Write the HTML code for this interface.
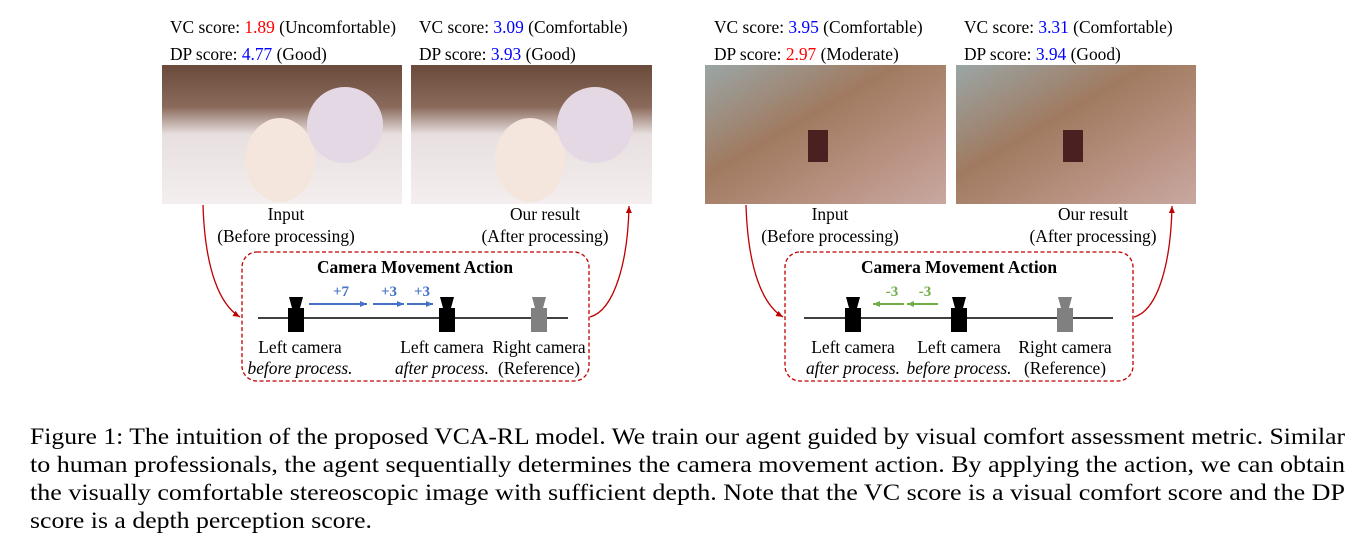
<!DOCTYPE html>
<html><head><meta charset="utf-8"><style>
body{margin:0;width:1365px;height:545px;background:#fff;overflow:hidden;font-family:"Liberation Serif",serif;}
svg{position:absolute;left:0;top:0}
</style></head><body>
<svg width="1365" height="545" xmlns="http://www.w3.org/2000/svg" font-family="'Liberation Serif', serif">
<defs>
<linearGradient id="g1" x1="0" y1="0" x2="0" y2="1">
<stop offset="0" stop-color="#6a4a3a"/><stop offset="0.3" stop-color="#8a6a5a"/><stop offset="0.5" stop-color="#e8e0e0"/><stop offset="1" stop-color="#f4eeee"/></linearGradient>
<linearGradient id="g2" x1="0" y1="0" x2="1" y2="1">
<stop offset="0" stop-color="#9aa6a6"/><stop offset="0.4" stop-color="#a07a60"/><stop offset="0.7" stop-color="#b89080"/><stop offset="1" stop-color="#c8a8a0"/></linearGradient>
<marker id="ar" markerWidth="8" markerHeight="8" refX="7" refY="4" orient="auto" markerUnits="userSpaceOnUse"><path d="M0,1 L7,4 L0,7 z" fill="#c00000"/></marker>
<marker id="ab" markerWidth="8" markerHeight="8" refX="7" refY="4" orient="auto" markerUnits="userSpaceOnUse"><path d="M0,1 L7,4 L0,7 z" fill="#4472c4"/></marker>
<marker id="ag" markerWidth="8" markerHeight="8" refX="7" refY="4" orient="auto" markerUnits="userSpaceOnUse"><path d="M0,1 L7,4 L0,7 z" fill="#70ad47"/></marker>
</defs>
<g font-size="17.4">
<text x="170" y="33">VC score: <tspan fill="#f00">1.89</tspan> (Uncomfortable)</text>
<text x="170" y="60">DP score: <tspan fill="#00f">4.77</tspan> (Good)</text>
<text x="419" y="33">VC score: <tspan fill="#00f">3.09</tspan> (Comfortable)</text>
<text x="419" y="60">DP score: <tspan fill="#00f">3.93</tspan> (Good)</text>
<text x="714" y="33">VC score: <tspan fill="#00f">3.95</tspan> (Comfortable)</text>
<text x="714" y="60">DP score: <tspan fill="#f00">2.97</tspan> (Moderate)</text>
<text x="964" y="33">VC score: <tspan fill="#00f">3.31</tspan> (Comfortable)</text>
<text x="964" y="60">DP score: <tspan fill="#00f">3.94</tspan> (Good)</text>
</g>
<rect x="162" y="65" width="240" height="139" fill="url(#g1)"/>
<rect x="411" y="65" width="241" height="139" fill="url(#g1)"/>
<ellipse cx="280" cy="160" rx="35" ry="42" fill="#f4e6dc"/><ellipse cx="345" cy="125" rx="38" ry="38" fill="#e4d8e4"/>
<ellipse cx="530" cy="160" rx="35" ry="42" fill="#f4e6dc"/><ellipse cx="595" cy="125" rx="38" ry="38" fill="#e4d8e4"/>
<rect x="705" y="65" width="241" height="139" fill="url(#g2)"/>
<rect x="956" y="65" width="240" height="139" fill="url(#g2)"/>
<rect x="808" y="130" width="20" height="32" fill="#4a2020"/><rect x="1063" y="130" width="20" height="32" fill="#4a2020"/>
<g font-size="17.4" text-anchor="middle">
<text x="286" y="220">Input</text><text x="286" y="242">(Before processing)</text>
<text x="545" y="220">Our result</text><text x="545" y="242">(After processing)</text>
<text x="830" y="220">Input</text><text x="830" y="242">(Before processing)</text>
<text x="1093" y="220">Our result</text><text x="1093" y="242">(After processing)</text>
</g>
<g fill="none" stroke="#c00000" stroke-width="1.3">
<rect x="242" y="252" width="347" height="129" rx="15" stroke-dasharray="4,2.5"/>
<rect x="785" y="252" width="348" height="129" rx="15" stroke-dasharray="4,2.5"/>
<path d="M203,205 C205,270 220,305 240,317" marker-end="url(#ar)"/>
<path d="M590,317 C615,310 628,260 629,206" marker-end="url(#ar)"/>
<path d="M746,205 C748,270 763,305 783,317" marker-end="url(#ar)"/>
<path d="M1134,317 C1159,310 1171,260 1172,206" marker-end="url(#ar)"/>
</g>
<g font-size="17.4" font-weight="bold" text-anchor="middle">
<text x="415" y="273">Camera Movement Action</text>
<text x="959" y="273">Camera Movement Action</text>
</g>
<line x1="258" y1="318" x2="568" y2="318" stroke="#000" stroke-width="1.5"/>
<line x1="804" y1="318" x2="1113" y2="318" stroke="#000" stroke-width="1.5"/>
<g>
<path d="M289,297 h14 l-3,11 h-8 z" fill="#000"/><rect x="288" y="308" width="16" height="24" fill="#000"/>
<path d="M440,297 h14 l-3,11 h-8 z" fill="#000"/><rect x="439" y="308" width="16" height="24" fill="#000"/>
<path d="M532,297 h14 l-3,11 h-8 z" fill="#808080"/><rect x="531" y="308" width="16" height="24" fill="#808080"/>
<path d="M846,297 h14 l-3,11 h-8 z" fill="#000"/><rect x="845" y="308" width="16" height="24" fill="#000"/>
<path d="M952,297 h14 l-3,11 h-8 z" fill="#000"/><rect x="951" y="308" width="16" height="24" fill="#000"/>
<path d="M1058,297 h14 l-3,11 h-8 z" fill="#808080"/><rect x="1057" y="308" width="16" height="24" fill="#808080"/>
</g>
<g stroke="#4472c4" stroke-width="2" fill="none">
<line x1="309" y1="304" x2="367" y2="304" marker-end="url(#ab)"/>
<line x1="373" y1="304" x2="404" y2="304" marker-end="url(#ab)"/>
<line x1="407" y1="304" x2="433" y2="304" marker-end="url(#ab)"/>
</g>
<g stroke="#70ad47" stroke-width="2" fill="none">
<line x1="904" y1="304" x2="873" y2="304" marker-end="url(#ag)"/>
<line x1="938" y1="304" x2="907" y2="304" marker-end="url(#ag)"/>
</g>
<g font-size="15" font-weight="bold" text-anchor="middle">
<text x="341" y="296" fill="#4472c4">+7</text><text x="389" y="296" fill="#4472c4">+3</text><text x="422" y="296" fill="#4472c4">+3</text>
<text x="892" y="296" fill="#70ad47">-3</text><text x="925" y="296" fill="#70ad47">-3</text>
</g>
<g font-size="17.4" text-anchor="middle">
<text x="300" y="353">Left camera</text><text x="300" y="374" font-style="italic">before process.</text>
<text x="442" y="353">Left camera</text><text x="442" y="374" font-style="italic">after process.</text>
<text x="539" y="353">Right camera</text><text x="539" y="374">(Reference)</text>
<text x="853" y="353">Left camera</text><text x="853" y="374" font-style="italic">after process.</text>
<text x="959" y="353">Left camera</text><text x="959" y="374" font-style="italic">before process.</text>
<text x="1065" y="353">Right camera</text><text x="1065" y="374">(Reference)</text>
</g>
<g font-size="23.5">
<text x="30" y="444" textLength="1315" lengthAdjust="spacingAndGlyphs">Figure 1: The intuition of the proposed VCA-RL model. We train our agent guided by visual comfort assessment metric. Similar</text>
<text x="30" y="472" textLength="1315" lengthAdjust="spacingAndGlyphs">to human professionals, the agent sequentially determines the camera movement action. By applying the action, we can obtain</text>
<text x="30" y="500" textLength="1315" lengthAdjust="spacingAndGlyphs">the visually comfortable stereoscopic image with sufficient depth. Note that the VC score is a visual comfort score and the DP</text>
<text x="30" y="528" textLength="342" lengthAdjust="spacingAndGlyphs">score is a depth perception score.</text>
</g>
</svg>
</body></html>
